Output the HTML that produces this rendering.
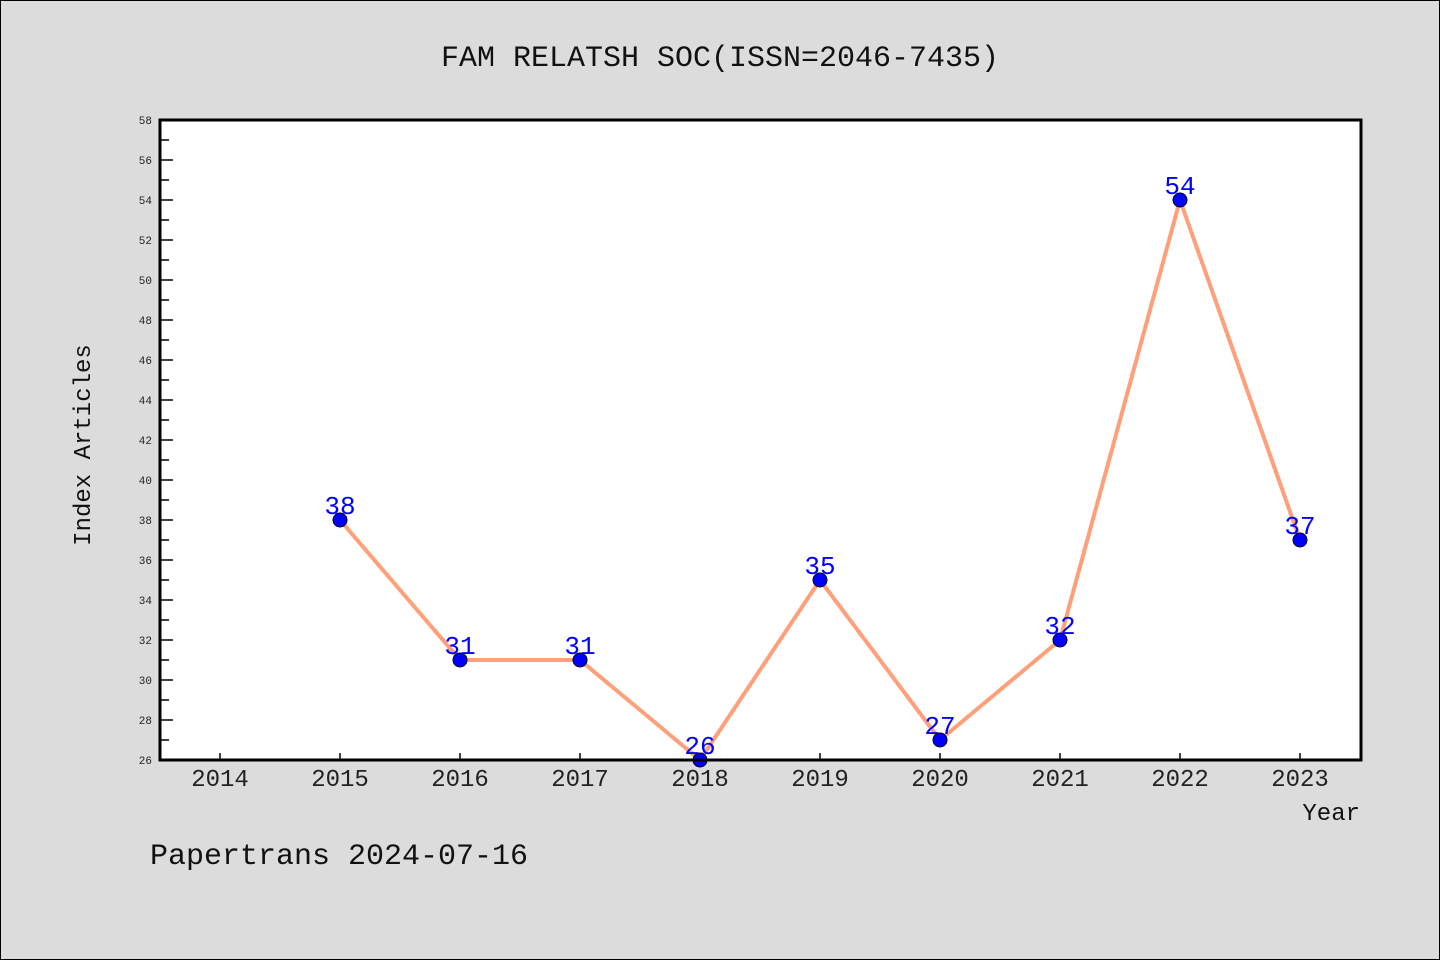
<!DOCTYPE html>
<html><head><meta charset="utf-8"><style>
html,body{margin:0;padding:0;background:#dcdcdc}
svg{display:block}
text{font-family:"Liberation Mono","DejaVu Sans Mono",monospace}
</style></head><body>
<svg id="chart" width="1440" height="960" viewBox="0 0 1440 960">
<rect x="0.5" y="0.5" width="1439" height="959" fill="#dcdcdc" stroke="#000"/>
<text x="720" y="66" text-anchor="middle" font-size="30" fill="#111">FAM RELATSH SOC(ISSN=2046-7435)</text>
<rect x="160" y="120" width="1201" height="640" fill="#fff"/>
<g id="yaxis"></g>
<g id="xaxis"></g>
<g id="series"></g>
<rect x="160" y="120" width="1201" height="640" fill="none" stroke="#000" stroke-width="3"/>
<text x="90" y="445" text-anchor="middle" font-size="24" fill="#111" transform="rotate(-90 90 445)">Index Articles</text>
<text x="1360" y="820" text-anchor="end" font-size="24" fill="#111">Year</text>
<text x="150" y="864" font-size="30" fill="#111">Papertrans 2024-07-16</text>
</svg>
<script>
const years=[2015,2016,2017,2018,2019,2020,2021,2022,2023];
const values=[38,31,31,26,35,27,32,54,37];
const xTicks=[2014,2015,2016,2017,2018,2019,2020,2021,2022,2023];
const yTicks=[26,28,30,32,34,36,38,40,42,44,46,48,50,52,54,56,58];
const NS='http://www.w3.org/2000/svg';
const xS=v=>220+(v-2014)*120;
const yS=v=>760-(v-26)*20;
function mk(tag,attrs,parent){const e=document.createElementNS(NS,tag);for(const k in attrs)e.setAttribute(k,attrs[k]);parent.appendChild(e);return e;}
const ya=document.getElementById('yaxis'),xa=document.getElementById('xaxis'),se=document.getElementById('series');
yTicks.forEach((t,i)=>{
 const y=yS(t);
 const l=mk('line',{x1:160,x2:173,y1:y,y2:y,stroke:'#000','stroke-width':1.5},ya);
 
 
 const tx=mk('text',{x:152,y:y+4,'text-anchor':'end','font-size':11,fill:'#222'},ya);
 tx.textContent=t;
 
 
 if(i<yTicks.length-1){
  const m=mk('line',{x1:160,x2:169,y1:yS(t+1),y2:yS(t+1),stroke:'#000','stroke-width':1.5},ya);
  
  
 }
});
xTicks.forEach(t=>{
 const x=xS(t);
 const l=mk('line',{x1:x,x2:x,y1:760,y2:753,stroke:'#000','stroke-width':1.5},xa);
 
 
 const tx=mk('text',{x:x,y:786,'text-anchor':'middle','font-size':24,fill:'#222','font-family':'Liberation Sans, sans-serif'},xa);
 tx.textContent=t;
 
 
});
const pts=years.map((y,i)=>xS(y)+','+yS(values[i])).join(' ');
const pl=mk('polyline',{points:pts,fill:'none',stroke:'#ffa07a','stroke-width':4,'stroke-linejoin':'round'},se);


years.forEach((y,i)=>{
 const c=mk('circle',{cx:xS(y),cy:yS(values[i]),r:7,fill:'#0000ff',stroke:'#000','stroke-width':1},se);
 
 
 const t=mk('text',{x:xS(y),y:yS(values[i])+7-13,'text-anchor':'middle','font-size':26,fill:'#0000ff','font-family':'Liberation Sans, sans-serif'},se);
 t.textContent=values[i];
 
 
});
</script>
</body></html>
